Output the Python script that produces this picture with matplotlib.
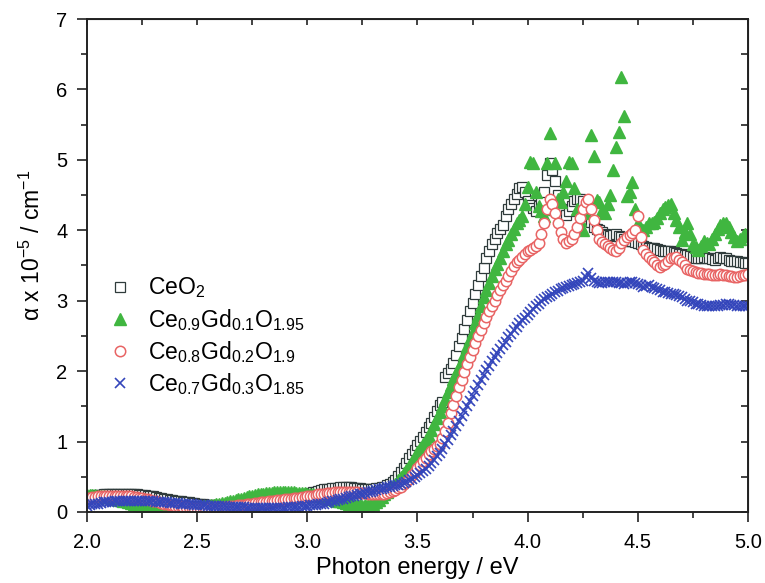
import numpy as np
import matplotlib
matplotlib.use("Agg")
import matplotlib.pyplot as plt
from matplotlib.ticker import MultipleLocator, FormatStrFormatter

plt.rcParams['font.family'] = ['Liberation Sans', 'DejaVu Sans']
plt.rcParams['mathtext.fontset'] = 'custom'
plt.rcParams['mathtext.rm'] = 'Liberation Sans'
plt.rcParams['mathtext.it'] = 'Liberation Sans:italic'
plt.rcParams['mathtext.bf'] = 'Liberation Sans:bold'

# --- Data ---
# photon energy grid 2.0 - 5.0 eV, 0.0125 eV step (one row below = 0.1 eV)
energy = np.linspace(2.0, 5.0, 241)

ceo2 = [
    0.22, 0.225, 0.23, 0.235, 0.24, 0.245, 0.25, 0.25,
    0.25, 0.255, 0.26, 0.26, 0.26, 0.26, 0.26, 0.26,
    0.26, 0.255, 0.25, 0.245, 0.24, 0.235, 0.23, 0.225,
    0.22, 0.21, 0.20, 0.195, 0.19, 0.18, 0.17, 0.165,
    0.16, 0.155, 0.15, 0.145, 0.14, 0.135, 0.13, 0.125,
    0.12, 0.115, 0.11, 0.105, 0.10, 0.10, 0.10, 0.095,
    0.09, 0.09, 0.09, 0.09, 0.09, 0.09, 0.09, 0.09,
    0.09, 0.095, 0.10, 0.10, 0.10, 0.105, 0.11, 0.115,
    0.12, 0.125, 0.13, 0.14, 0.15, 0.155, 0.16, 0.17,
    0.18, 0.19, 0.20, 0.21, 0.22, 0.23, 0.24, 0.25,
    0.26, 0.27, 0.28, 0.29, 0.30, 0.31, 0.32, 0.325,
    0.33, 0.335, 0.34, 0.345, 0.35, 0.35, 0.35, 0.35,
    0.35, 0.345, 0.34, 0.335, 0.33, 0.33, 0.33, 0.33,
    0.33, 0.335, 0.34, 0.35, 0.36, 0.38, 0.40, 0.42,
    0.45, 0.51, 0.57, 0.63, 0.70, 0.76, 0.82, 0.88,
    0.95, 1.01, 1.07, 1.13, 1.20, 1.27, 1.35, 1.43,
    1.52, 1.56, 1.92, 1.97, 2.03, 2.12, 2.23, 2.35,
    2.47, 2.60, 2.72, 2.85, 2.97, 3.10, 3.22, 3.35,
    3.47, 3.60, 3.70, 3.80, 3.88, 3.96, 4.02, 4.08,
    4.20, 4.30, 4.38, 4.45, 4.52, 4.60, 4.62, 4.55,
    4.42, 4.36, 4.32, 4.28, 4.35, 4.42, 4.55, 4.78,
    4.95, 4.85, 4.70, 4.50, 4.30, 4.25, 4.22, 4.28,
    4.35, 4.42, 4.45, 4.44, 4.42, 4.32, 4.20, 4.12,
    4.05, 4.02, 4.00, 3.97, 3.95, 3.93, 3.92, 3.93,
    3.95, 3.92, 3.90, 3.88, 3.85, 3.85, 3.85, 3.83,
    3.82, 3.80, 3.78, 3.76, 3.75, 3.75, 3.75, 3.73,
    3.72, 3.71, 3.70, 3.70, 3.70, 3.69, 3.68, 3.67,
    3.66, 3.65, 3.65, 3.63, 3.62, 3.61, 3.60, 3.61,
    3.62, 3.61, 3.60, 3.59, 3.58, 3.60, 3.62, 3.61,
    3.60, 3.58, 3.57, 3.56, 3.56, 3.55, 3.55, 3.54,
    3.54,
]

gd01 = [
    0.24, 0.24, 0.24, 0.235, 0.23, 0.225, 0.22, 0.215,
    0.21, 0.20, 0.19, 0.18, 0.17, 0.16, 0.15, 0.14,
    0.13, 0.12, 0.11, 0.10, 0.09, 0.085, 0.08, 0.075,
    0.07, 0.065, 0.06, 0.055, 0.05, 0.05, 0.05, 0.05,
    0.05, 0.05, 0.05, 0.05, 0.05, 0.055, 0.06, 0.065,
    0.07, 0.075, 0.08, 0.085, 0.09, 0.095, 0.10, 0.11,
    0.12, 0.125, 0.13, 0.14, 0.15, 0.16, 0.17, 0.18,
    0.19, 0.20, 0.21, 0.22, 0.23, 0.24, 0.25, 0.255,
    0.26, 0.265, 0.27, 0.275, 0.28, 0.28, 0.28, 0.28,
    0.28, 0.28, 0.28, 0.28, 0.27, 0.27, 0.27, 0.265,
    0.26, 0.255, 0.25, 0.24, 0.23, 0.22, 0.21, 0.20,
    0.19, 0.18, 0.17, 0.16, 0.15, 0.14, 0.13, 0.12,
    0.11, 0.105, 0.10, 0.095, 0.09, 0.095, 0.10, 0.11,
    0.12, 0.14, 0.17, 0.21, 0.25, 0.29, 0.33, 0.37,
    0.40, 0.45, 0.50, 0.55, 0.60, 0.66, 0.72, 0.78,
    0.85, 0.91, 0.97, 1.02, 1.08, 1.16, 1.25, 1.33,
    1.42, 1.51, 1.60, 1.70, 1.80, 1.89, 1.98, 2.06,
    2.15, 2.25, 2.35, 2.45, 2.55, 2.68, 2.80, 2.93,
    3.05, 3.15, 3.25, 3.35, 3.45, 3.52, 3.60, 3.70,
    3.80, 3.86, 3.95, 4.02, 4.10, 4.15, 4.20, 4.38,
    4.62, 4.97, 4.95, 4.55, 4.35, 4.28, 4.20, 4.95,
    5.38, 4.30, 4.95, 4.45, 4.40, 4.55, 4.70, 4.97,
    4.95, 4.60, 4.30, 4.15, 4.00, 4.25, 4.40, 5.35,
    5.05, 4.43, 4.40, 4.29, 4.25, 4.38, 4.50, 4.85,
    5.18, 5.40, 6.18, 5.62, 4.48, 4.55, 4.68, 4.30,
    4.10, 4.02, 4.00, 4.05, 4.10, 4.10, 4.12, 4.18,
    4.25, 4.30, 4.33, 4.36, 4.38, 4.25, 4.15, 4.05,
    3.86, 3.98, 4.10, 3.95, 3.80, 3.76, 3.72, 3.78,
    3.85, 3.82, 3.80, 3.88, 3.95, 4.02, 4.08, 4.10,
    4.10, 4.05, 3.98, 3.90, 3.85, 3.88, 3.92, 3.95,
    3.92,
]

gd02 = [
    0.20, 0.205, 0.21, 0.215, 0.22, 0.22, 0.22, 0.225,
    0.23, 0.23, 0.23, 0.23, 0.23, 0.23, 0.23, 0.225,
    0.22, 0.215, 0.21, 0.205, 0.20, 0.19, 0.18, 0.17,
    0.16, 0.15, 0.14, 0.13, 0.12, 0.11, 0.10, 0.095,
    0.09, 0.085, 0.08, 0.075, 0.07, 0.065, 0.06, 0.06,
    0.06, 0.06, 0.06, 0.06, 0.06, 0.06, 0.06, 0.065,
    0.07, 0.07, 0.07, 0.075, 0.08, 0.085, 0.09, 0.095,
    0.10, 0.105, 0.11, 0.115, 0.12, 0.125, 0.13, 0.135,
    0.14, 0.145, 0.15, 0.155, 0.16, 0.165, 0.17, 0.175,
    0.18, 0.185, 0.19, 0.195, 0.20, 0.205, 0.21, 0.215,
    0.22, 0.225, 0.23, 0.24, 0.25, 0.255, 0.26, 0.265,
    0.27, 0.275, 0.28, 0.285, 0.29, 0.29, 0.29, 0.29,
    0.29, 0.285, 0.28, 0.275, 0.27, 0.265, 0.26, 0.255,
    0.25, 0.25, 0.25, 0.255, 0.26, 0.27, 0.28, 0.295,
    0.31, 0.335, 0.36, 0.395, 0.43, 0.475, 0.52, 0.57,
    0.62, 0.67, 0.72, 0.77, 0.82, 0.86, 0.90, 0.93,
    0.97, 1.05, 1.15, 1.27, 1.40, 1.52, 1.65, 1.77,
    1.88, 1.99, 2.10, 2.20, 2.30, 2.40, 2.50, 2.59,
    2.68, 2.77, 2.85, 2.93, 3.00, 3.08, 3.15, 3.22,
    3.28, 3.35, 3.42, 3.49, 3.55, 3.58, 3.62, 3.66,
    3.70, 3.72, 3.75, 3.78, 3.82, 3.95, 4.10, 4.30,
    4.45, 4.38, 4.25, 4.10, 3.98, 3.88, 3.82, 3.85,
    3.88, 3.95, 4.05, 4.18, 4.30, 4.40, 4.45, 4.30,
    4.15, 4.00, 3.88, 3.84, 3.80, 3.78, 3.75, 3.72,
    3.70, 3.75, 3.82, 3.86, 3.90, 3.93, 3.96, 4.00,
    4.20, 3.90, 3.72, 3.67, 3.62, 3.58, 3.55, 3.51,
    3.48, 3.50, 3.52, 3.56, 3.60, 3.61, 3.62, 3.58,
    3.55, 3.50, 3.45, 3.43, 3.42, 3.41, 3.40, 3.39,
    3.38, 3.38, 3.38, 3.37, 3.36, 3.37, 3.38, 3.37,
    3.36, 3.35, 3.35, 3.34, 3.34, 3.35, 3.36, 3.37,
    3.38,
]

gd03 = [
    0.09, 0.10, 0.11, 0.115, 0.12, 0.13, 0.135, 0.14,
    0.14, 0.145, 0.15, 0.15, 0.15, 0.15, 0.15, 0.15,
    0.15, 0.15, 0.15, 0.15, 0.15, 0.15, 0.15, 0.15,
    0.15, 0.145, 0.14, 0.14, 0.14, 0.135, 0.13, 0.13,
    0.13, 0.125, 0.12, 0.115, 0.11, 0.11, 0.11, 0.105,
    0.10, 0.10, 0.10, 0.095, 0.09, 0.09, 0.09, 0.085,
    0.08, 0.08, 0.08, 0.075, 0.07, 0.07, 0.07, 0.07,
    0.07, 0.065, 0.06, 0.06, 0.06, 0.06, 0.06, 0.06,
    0.06, 0.06, 0.06, 0.06, 0.06, 0.06, 0.06, 0.06,
    0.06, 0.065, 0.07, 0.07, 0.07, 0.075, 0.08, 0.085,
    0.09, 0.095, 0.10, 0.105, 0.11, 0.115, 0.12, 0.13,
    0.14, 0.15, 0.16, 0.17, 0.18, 0.19, 0.20, 0.21,
    0.22, 0.23, 0.24, 0.25, 0.26, 0.27, 0.28, 0.29,
    0.30, 0.31, 0.32, 0.33, 0.34, 0.35, 0.36, 0.37,
    0.38, 0.39, 0.40, 0.415, 0.43, 0.45, 0.47, 0.495,
    0.52, 0.55, 0.58, 0.615, 0.65, 0.695, 0.74, 0.79,
    0.84, 0.90, 0.96, 1.02, 1.09, 1.15, 1.22, 1.29,
    1.36, 1.43, 1.50, 1.57, 1.65, 1.72, 1.80, 1.87,
    1.95, 2.01, 2.08, 2.14, 2.20, 2.26, 2.32, 2.37,
    2.42, 2.48, 2.53, 2.58, 2.63, 2.68, 2.72, 2.76,
    2.80, 2.84, 2.88, 2.92, 2.95, 2.99, 3.02, 3.05,
    3.07, 3.10, 3.12, 3.14, 3.16, 3.18, 3.20, 3.21,
    3.22, 3.24, 3.25, 3.27, 3.28, 3.33, 3.40, 3.32,
    3.28, 3.26, 3.25, 3.25, 3.26, 3.27, 3.27, 3.27,
    3.26, 3.25, 3.25, 3.24, 3.25, 3.26, 3.26, 3.25,
    3.24, 3.22, 3.20, 3.21, 3.22, 3.20, 3.18, 3.16,
    3.15, 3.13, 3.12, 3.11, 3.10, 3.09, 3.08, 3.06,
    3.05, 3.02, 3.00, 2.99, 2.98, 2.96, 2.95, 2.94,
    2.93, 2.92, 2.92, 2.92, 2.93, 2.93, 2.94, 2.94,
    2.95, 2.95, 2.94, 2.94, 2.93, 2.92, 2.92, 2.92,
    2.92,
]

labels = [
    'CeO$_2$',
    'Ce$_{0.9}$Gd$_{0.1}$O$_{1.95}$',
    'Ce$_{0.8}$Gd$_{0.2}$O$_{1.9}$',
    'Ce$_{0.7}$Gd$_{0.3}$O$_{1.85}$',
]

fig = plt.figure(figsize=(7.65, 5.83), dpi=100)
ax = fig.add_axes([0.1137, 0.1218, 0.8641, 0.8456])

ax.plot(energy, ceo2, linestyle='none', marker='s', ms=7, mfc='white',
        mec='#2f3b3b', mew=0.9, label=labels[0])
ax.plot(energy, gd01, linestyle='none', marker='^', ms=8.5, color='#40b640',
        mec='#40b640', label=labels[1])
ax.plot(energy, gd02, linestyle='none', marker='o', ms=7.5, mfc='white',
        mec='#e86464', mew=1.1, label=labels[2])
ax.plot(energy, gd03, linestyle='none', marker='x', ms=7.5, color='#3446bb',
        mew=1.2, label=labels[3])

ax.set_xlim(2.0, 5.0)
ax.set_ylim(0, 7)
ax.xaxis.set_major_locator(MultipleLocator(0.5))
ax.xaxis.set_minor_locator(MultipleLocator(0.25))
ax.yaxis.set_major_locator(MultipleLocator(1))
ax.yaxis.set_minor_locator(MultipleLocator(0.5))
ax.xaxis.set_major_formatter(FormatStrFormatter('%.1f'))

for s in ax.spines.values():
    s.set_linewidth(1.4)
    s.set_color('#222222')

ax.tick_params(which='both', direction='out', top=False, right=False,
               labelsize=14.5, color='#222222', width=1.2)
ax.tick_params(which='major', length=7)
ax.tick_params(which='minor', length=4)
ax.tick_params(axis='x', which='major', pad=8)
ax.tick_params(axis='y', which='major', pad=7)

# inward ticks on top and right
ax2 = ax.secondary_xaxis('top')
ax2.xaxis.set_major_locator(MultipleLocator(0.25))
ax2.tick_params(direction='in', length=4, width=1.2, labeltop=False, color='#222222')
ax2.set_xticklabels([])
ay2 = ax.secondary_yaxis('right')
ay2.yaxis.set_major_locator(MultipleLocator(0.5))
ay2.tick_params(direction='in', length=5, width=1.2, labelright=False, color='#222222')
ay2.set_yticklabels([])

ax.set_xlabel('Photon energy / eV', fontsize=17, labelpad=4)
ax.set_ylabel('α x 10$^{-5}$ / cm$^{-1}$', fontsize=16.5)
ax.yaxis.set_label_coords(-0.0635, 0.54)

ax.legend(loc='center left', bbox_to_anchor=(0.018, 0.356), frameon=False,
          fontsize=16.5, handletextpad=0.75, labelspacing=0.28, handlelength=1.0,
          borderaxespad=0)

fig.savefig('out.png', dpi=100)
